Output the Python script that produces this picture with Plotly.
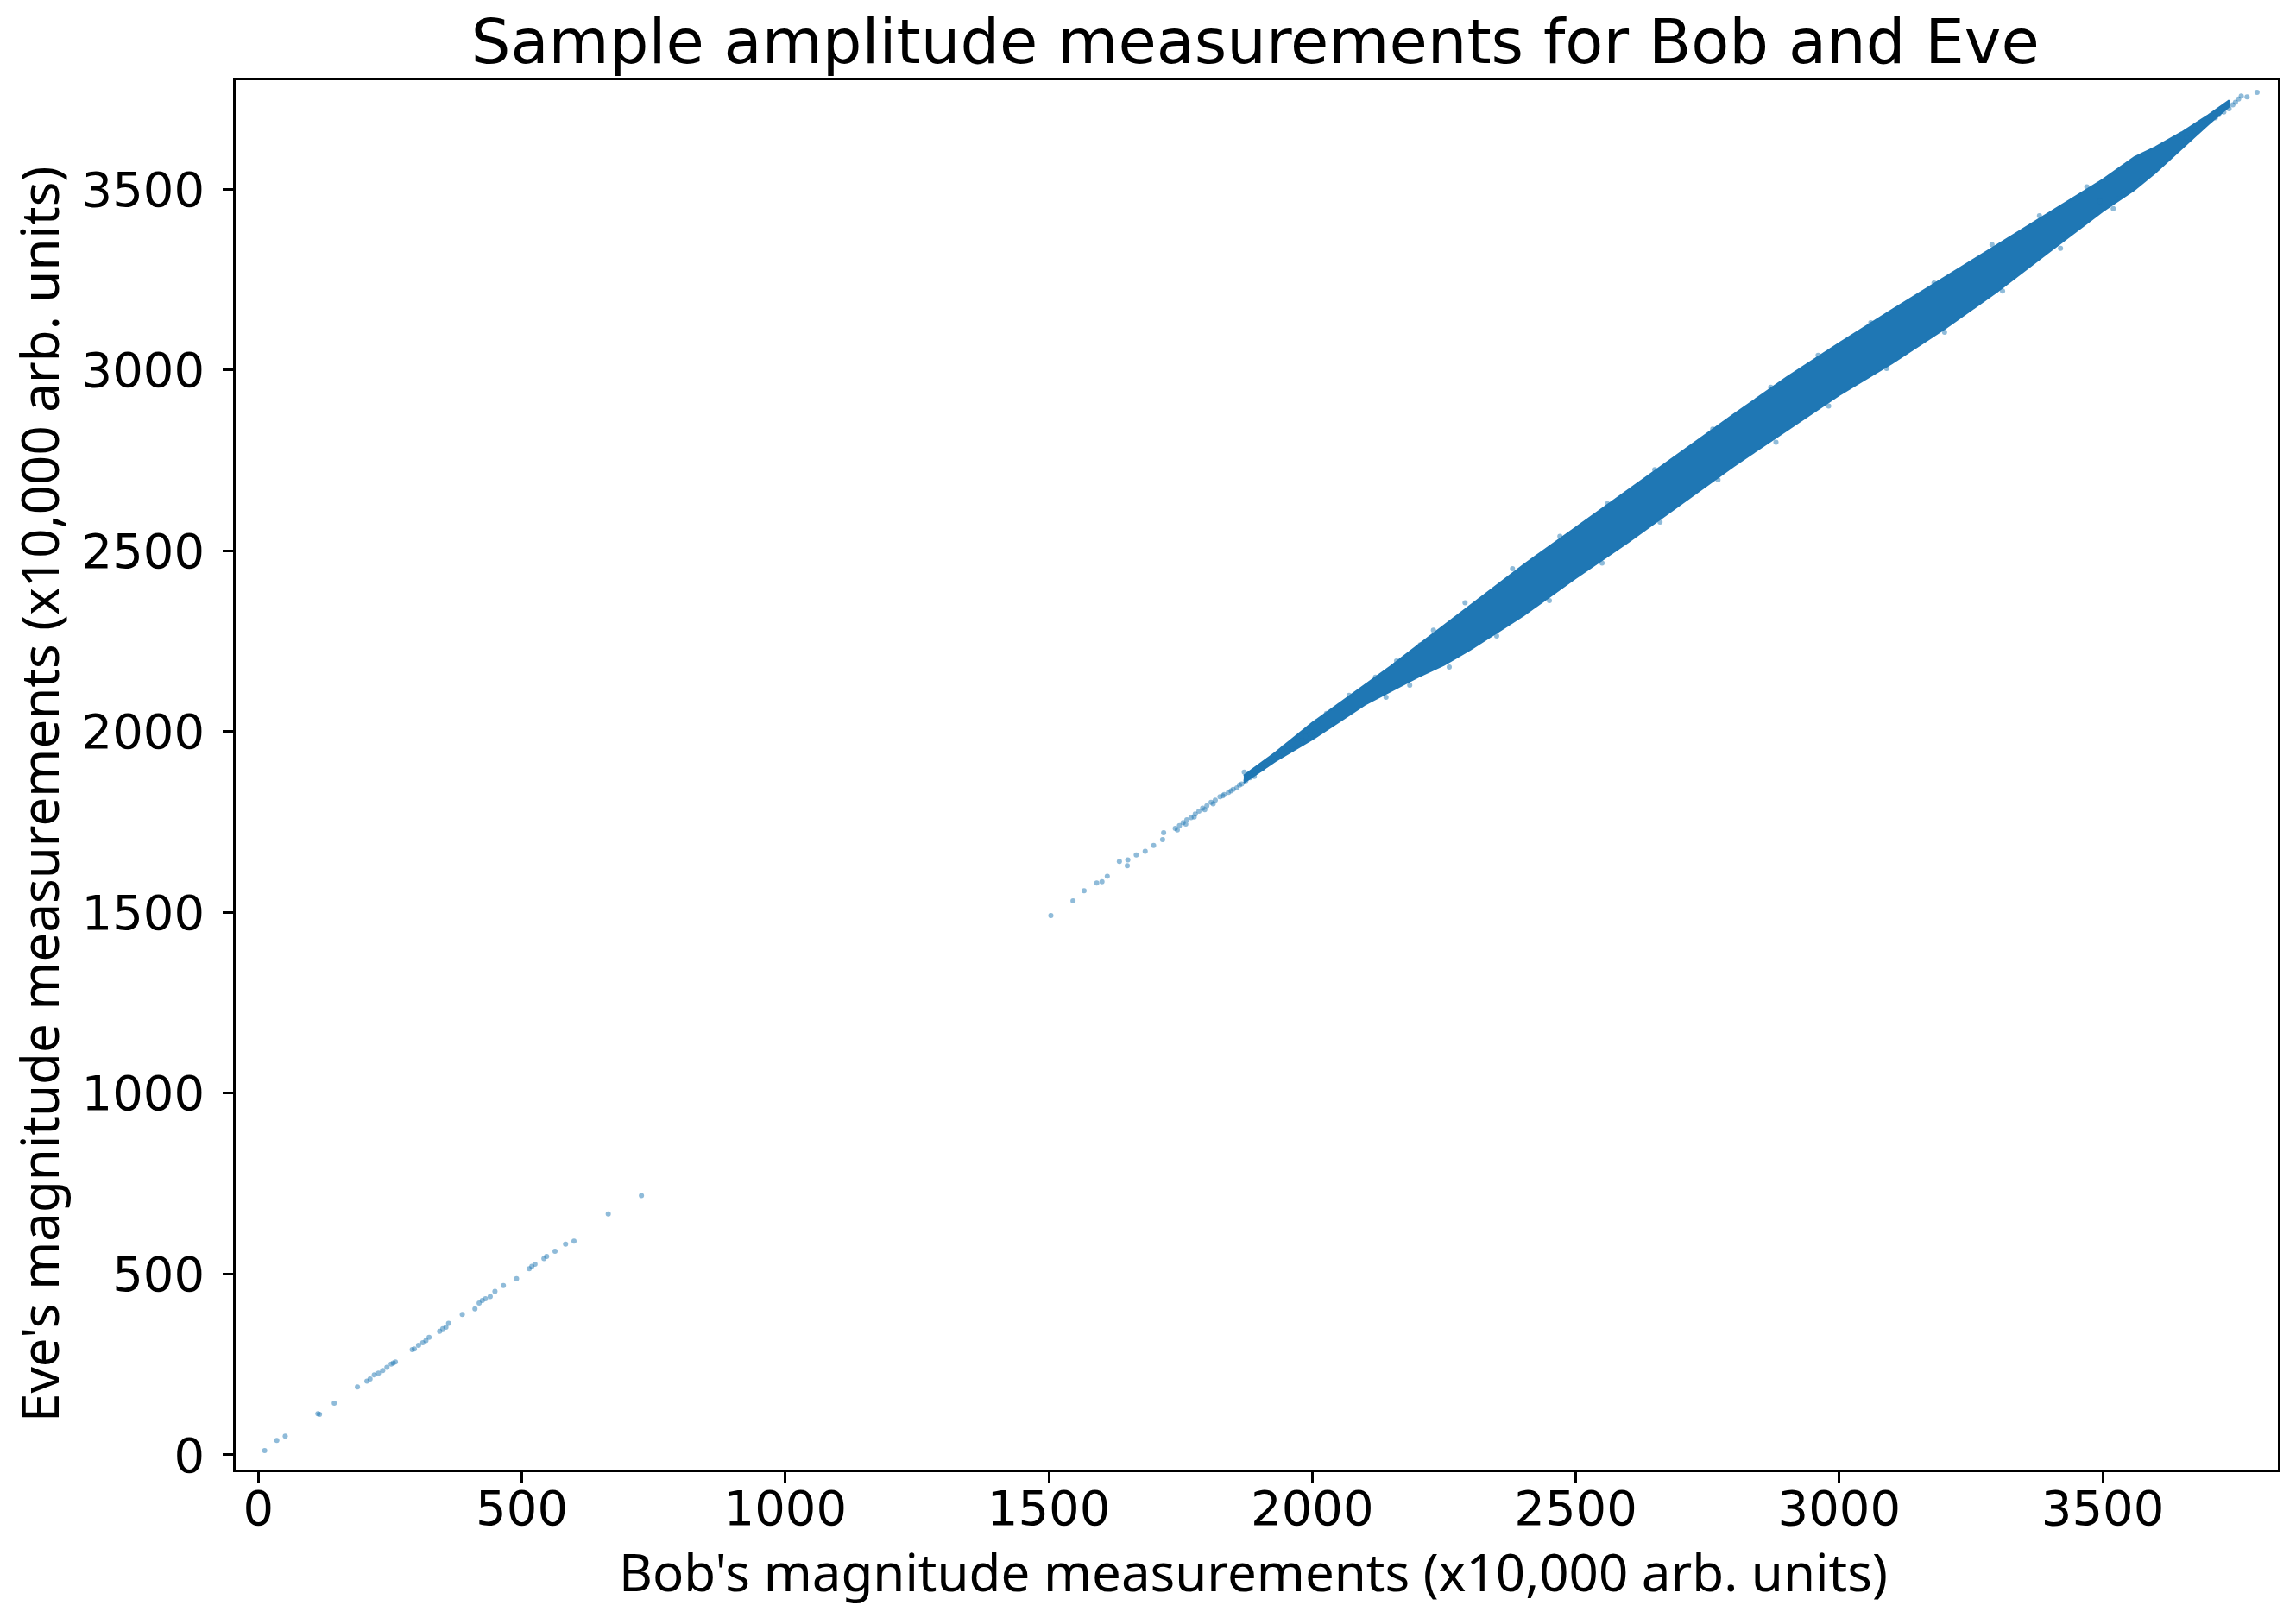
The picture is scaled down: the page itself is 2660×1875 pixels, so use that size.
import plotly.graph_objects as go

# ---- data (x10,000 arb. units) ----
# sparse low-amplitude samples
low_bob = [12, 35, 51, 113, 116, 144, 188, 206, 212, 220, 228, 236, 244, 252, 256, 260,
           292, 296, 304, 312, 318, 324, 344, 350, 356, 361, 387, 411, 419, 425, 431, 440,
           449, 465, 490, 514, 519, 525, 542, 547, 563, 583, 599, 664, 727]
low_eve = [12, 40, 52, 114, 112, 143, 188, 204, 210, 221, 226, 233, 242, 251, 254, 257,
           291, 293, 303, 310, 316, 325, 342, 349, 353, 364, 388, 404, 420, 427, 432, 438,
           452, 468, 487, 515, 521, 527, 543, 549, 563, 583, 591, 666, 717]

# sparse-to-medium samples leading into the dense band
mid_bob = [1504, 1546, 1567, 1591, 1601, 1611, 1634, 1649, 1650, 1666, 1683, 1699, 1716,
           1718, 1740, 1748, 1755, 1762, 1770, 1778, 1785, 1792, 1800, 1808, 1816, 1825,
           1833, 1841, 1850, 1857, 1866, 1871, 1874, 1882, 1890, 1901, 1906, 1912, 1920,
           1928, 1936, 1945, 1945, 1953, 1961, 1972, 1980, 1988, 1996, 2005, 2010, 2027,
           1744, 1760, 1776, 1796, 1812, 1830, 1846, 1862]
mid_eve = [1491, 1532, 1560, 1581, 1585, 1600, 1641, 1629, 1645, 1659, 1669, 1685, 1701,
           1720, 1732, 1740, 1748, 1756, 1762, 1772, 1780, 1788, 1795, 1804, 1810, 1820,
           1826, 1832, 1840, 1844, 1855, 1888, 1864, 1872, 1876, 1895, 1898, 1907, 1914,
           1923, 1930, 1939, 1955, 1946, 1951, 1979, 1975, 1987, 1992, 1999, 2027, 2050,
           1728, 1744, 1764, 1784, 1800, 1822, 1836, 1852]

# dense band outline (upper and lower edges of the point cloud)
band_bob = [1870, 1930, 2000, 2050, 2100, 2150, 2200, 2250, 2300, 2400, 2500, 2600,
            2700, 2800, 2900, 3000, 3100, 3200, 3300, 3400, 3500, 3560, 3600, 3650,
            3700, 3740]
band_upper = [1878, 1942, 2024, 2076, 2128, 2182, 2238, 2294, 2350, 2460, 2564, 2669,
              2774, 2877, 2979, 3074, 3166, 3256, 3346, 3438, 3526, 3588, 3616, 3657,
              3704, 3745]
band_lower = [1858, 1918, 1978, 2026, 2074, 2112, 2150, 2184, 2226, 2320, 2424, 2524,
              2629, 2734, 2832, 2930, 3018, 3113, 3216, 3328, 3438, 3497, 3545, 3612,
              3678, 3728]

# ragged fringe samples around the dense band
fringe_bob = [2230, 2290, 2380, 2470, 2560, 2650, 2760, 2870, 2960, 3060, 3180, 3290,
              3380, 3470, 2260, 2350, 2450, 2550, 2660, 2770, 2880, 2980, 3090, 3200,
              3310, 3420, 3520, 3495, 3530, 3572, 2120, 2160, 2205, 2140, 2185, 2070]
fringe_eve = [2280, 2356, 2450, 2540, 2630, 2724, 2836, 2952, 3040, 3130, 3240, 3346,
              3426, 3506, 2178, 2264, 2362, 2466, 2579, 2696, 2800, 2900, 3004, 3104,
              3218, 3336, 3446, 3466, 3486, 3522, 2150, 2195, 2240, 2095, 2128, 2100]

# high-amplitude tail
tail_bob = [3659, 3676, 3698, 3714, 3720, 3730, 3740, 3747, 3752, 3758, 3763, 3774, 3793]
tail_eve = [3642, 3662, 3689, 3697, 3705, 3713, 3722, 3733, 3740, 3749, 3757, 3755, 3767]

x_ticks = [0, 500, 1000, 1500, 2000, 2500, 3000, 3500]
x_tick_labels = ["0", "500", "1000", "1500", "2000", "2500", "3000", "3500"]
y_ticks = [0, 500, 1000, 1500, 2000, 2500, 3000, 3500]
y_tick_labels = ["0", "500", "1000", "1500", "2000", "2500", "3000", "3500"]

title_text = "Sample amplitude measurements for Bob and Eve"
x_label = "Bob's magnitude measurements (x10,000 arb. units)"
y_label = "Eve's magnitude measurements (x10,000 arb. units)"

BLUE = "#1f77b4"

fig = go.Figure()

# dense band as filled outline
fig.add_trace(go.Scatter(
    x=band_bob + band_bob[::-1],
    y=band_upper + band_lower[::-1],
    mode="lines", fill="toself", fillcolor=BLUE,
    line=dict(color=BLUE, width=2),
    hoverinfo="skip", showlegend=False,
))

marker = dict(color=BLUE, size=6, opacity=0.5, line=dict(width=0))
for xs, ys in [(low_bob, low_eve), (mid_bob, mid_eve), (fringe_bob, fringe_eve),
               (tail_bob, tail_eve)]:
    fig.add_trace(go.Scatter(x=xs, y=ys, mode="markers", marker=marker,
                             hoverinfo="skip", showlegend=False))

axis_common = dict(
    showline=True, linecolor="black", linewidth=2.5, mirror=True,
    showgrid=False, zeroline=False,
    ticks="outside", ticklen=12, tickwidth=2.5, tickcolor="black",
    tickfont=dict(family="DejaVu Sans", size=56, color="black"),
)

fig.update_layout(
    width=2660, height=1875,
    margin=dict(l=273, r=21, t=93, b=172),
    paper_bgcolor="white", plot_bgcolor="white",
    title=dict(text=title_text, x=0.5467, xanchor="center",
               y=1 - 48 / 1875, yanchor="middle", yref="container",
               font=dict(family="DejaVu Sans", size=72, color="black")),
    xaxis=dict(range=[-43.1, 3832.5], tickvals=x_ticks, ticktext=x_tick_labels,
               ticklabelstandoff=-18, **axis_common),
    yaxis=dict(range=[-40.6, 3800.7], tickvals=y_ticks, ticktext=y_tick_labels,
               ticklabelstandoff=10, **axis_common),
    annotations=[
        dict(text=x_label, xref="paper", yref="paper", x=0.4983, y=-0.0735,
             xanchor="center", yanchor="middle", showarrow=False,
             font=dict(family="Noto Sans", size=60, color="black")),
        dict(text=y_label, xref="paper", yref="paper", x=-0.0964, y=0.4863,
             xanchor="center", yanchor="middle", showarrow=False, textangle=-90,
             font=dict(family="Noto Sans", size=60, color="black")),
    ],
)

# remove the browser's default body margin so the figure sits at the page origin
fig.write_html("out.html", config={"displayModeBar": False},
               post_script="document.body.style.margin='0';document.body.style.overflow='hidden';")
